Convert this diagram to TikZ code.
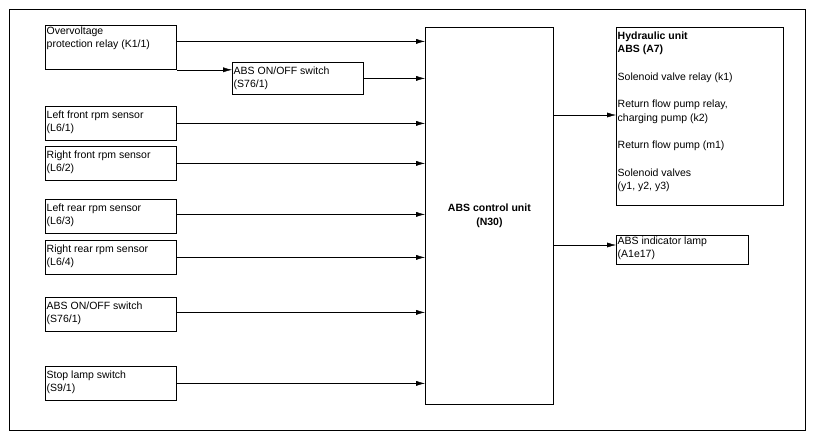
\documentclass[tikz,border=0pt]{standalone}
\usepackage{fontspec}
\setmainfont{Liberation Sans}
\usetikzlibrary{positioning,arrows.meta}
\tikzset{
 box/.style={draw,thick,inner sep=0pt,anchor=north west},
 txt/.style={anchor=north west,align=left,inner sep=1.5pt,font=\fontsize{10.5}{13.5}\selectfont},
 sig/.style={-{Latex[length=9pt,width=5pt]}}
}
\begin{document}
\begin{tikzpicture}[x=1pt,y=-1pt]
 \useasboundingbox (0,0) rectangle (815,440);
 \draw (9,9) rectangle (805,430);
 % control unit
 \node[box,minimum width=128,minimum height=377] (ecu) at (425,27) {};
 \node[font=\fontsize{10.5}{13.5}\selectfont\bfseries,align=center] at (ecu.center) {ABS control unit\\(N30)};
 % inputs
 \node[box,minimum width=131,minimum height=44] (ov) at (45,25) {};
 \node[txt] at (ov.north west) {Overvoltage\\protection relay (K1/1)};
 \node[box,minimum width=131,minimum height=32] (sw1) at (232,62) {};
 \node[txt] at ([yshift=-3pt]sw1.north west) {ABS ON/OFF switch\\(S76/1)};
 \foreach \n/\y/\a/\b in {lf/106/{Left front rpm sensor}/{L6/1},rf/146/{Right front rpm sensor}/{L6/2},
   lr/199/{Left rear rpm sensor}/{L6/3},rr/240/{Right rear rpm sensor}/{L6/4},
   sw2/297/{ABS ON/OFF switch}/{S76/1},stop/366/{Stop lamp switch}/{S9/1}}{
  \node[box,minimum width=131,minimum height=34] (\n) at (45,\y) {};
  \node[txt] at ([yshift=-3pt]\n.north west) {\a\\(\b)};
 }
 % outputs
 \node[box,minimum width=167,minimum height=178] (hyd) at (616,27) {};
 \node[txt] at ([yshift=-3pt]hyd.north west) {\textbf{Hydraulic unit}\\\textbf{ABS (A7)}\\[14pt]
  Solenoid valve relay (k1)\\[14pt]Return flow pump relay,\\charging pump (k2)\\[14pt]
  Return flow pump (m1)\\[14pt]Solenoid valves\\(y1, y2, y3)};
 \node[box,minimum width=132,minimum height=29] (lamp) at (616,235) {};
 \node[txt] at (lamp.north west) {ABS indicator lamp\\(A1e17)};
 % connectors
 \coordinate (ova) at ([yshift=6pt]ov.east);
 \coordinate (ovb) at (ov.south east);
 \draw[sig] (ova) -- (ecu.west |- ova);
 \draw[sig] (ovb) -- (sw1.west |- ovb);
 \draw[sig] (sw1.east) -- (ecu.west |- sw1.east);
 \foreach \n/\d in {lf/0,rf/0,lr/2,rr/0,sw2/2,stop/0}{
  \coordinate (\n-o) at ([yshift=\d pt]\n.east);
  \draw[sig] (\n-o) -- (ecu.west |- \n-o);
 }
 \coordinate (h) at (553,115);
 \draw[sig] (h) -- (hyd.west |- h);
 \coordinate (l) at (553,245);
 \draw[sig] (l) -- (lamp.west |- l);
\end{tikzpicture}
\end{document}
